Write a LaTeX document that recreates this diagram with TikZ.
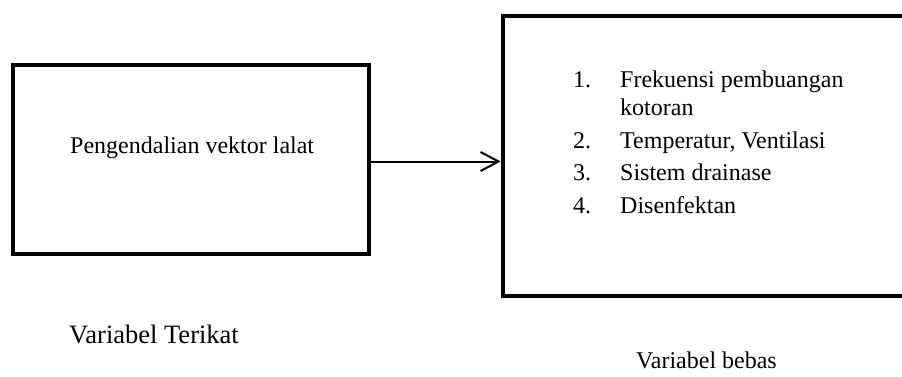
\documentclass[tikz,border=0pt]{standalone}
\usepackage{fontspec}
\setmainfont{Liberation Serif}
\usetikzlibrary{arrows.meta}
\begin{document}
\begin{tikzpicture}[x=1pt,y=-1pt,
  frame/.style={draw=black, line width=4.6pt, rectangle, inner sep=0pt},
  txt/.style={anchor=base west, inner sep=0pt, font=\fontsize{24}{28.3}\selectfont},
  bigtxt/.style={txt, font=\fontsize{26.5}{31}\selectfont},
  link/.style={line width=2pt, -{Straight Barb[length=18pt,width=19pt,line width=2pt]}}]
  \useasboundingbox (0,0) rectangle (902,376);
  \clip (0,0) rectangle (902,376);
  % dependent variable box
  \node[frame, minimum width=356pt, minimum height=189pt] (terikat) at (191,159.5) {};
  \node[txt] (tdep) at (70,153) {Pengendalian vektor lalat};
  % independent variables box (runs past the right edge)
  \node[frame, minimum width=420pt, minimum height=280pt] (bebas) at (713,156) {};
  \node[txt] (n1) at (573,87) {1.};
  \node[txt] (i1) at (620,87) {Frekuensi pembuangan};
  \node[txt] (i1b) at (620,115) {kotoran};
  \node[txt] (n2) at (573,148) {2.};
  \node[txt] (i2) at (620,148) {Temperatur, Ventilasi};
  \node[txt] (n3) at (573,180.5) {3.};
  \node[txt] (i3) at (620,180.5) {Sistem drainase};
  \node[txt] (n4) at (573,213) {4.};
  \node[txt] (i4) at (620,213) {Disenfektan};
  % connector
  \draw[link] (terikat.east |- 0,161.5) -- (bebas.west |- 0,161.5);
  % captions
  \node[bigtxt] (lt) at (69,343) {Variabel Terikat};
  \node[txt] (lb) at (636,368) {Variabel bebas};
\end{tikzpicture}
\end{document}
